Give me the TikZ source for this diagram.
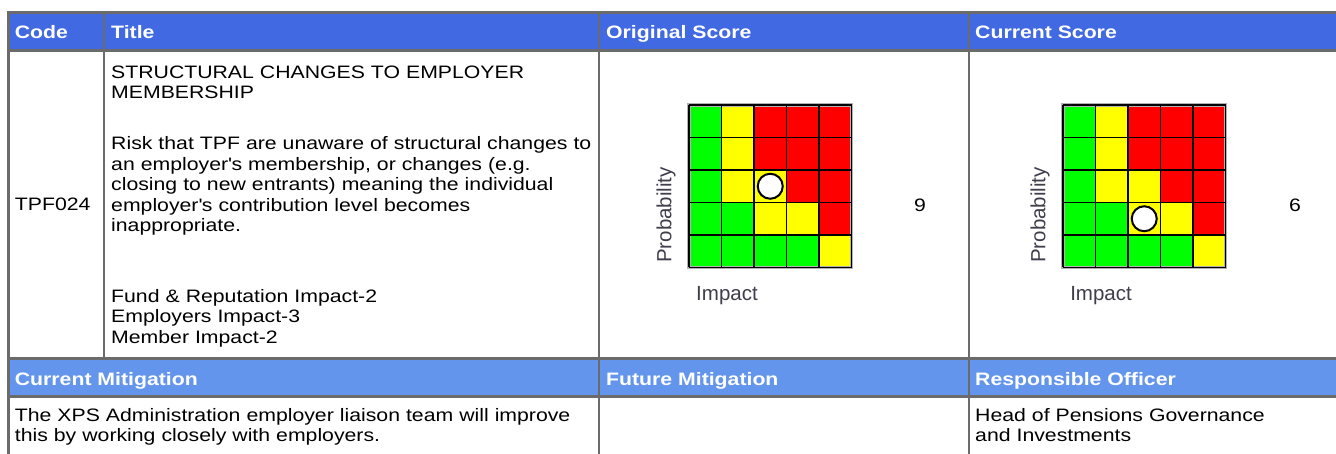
\documentclass[tikz,border=0pt]{standalone}
\usepackage{fontspec}
\setmainfont{Liberation Sans}[FakeStretch=1.18]
\newfontfamily\axisfont{Liberation Sans}
\usepackage{tikz}
\definecolor{mhead}{rgb}{0.255, 0.412, 0.882}
\definecolor{msub}{rgb}{0.392, 0.584, 0.929}
\definecolor{mrule}{rgb}{0.42, 0.42, 0.42}
\definecolor{mgreen}{rgb}{0, 1, 0}
\definecolor{myellow}{rgb}{1, 1, 0}
\definecolor{mred}{rgb}{1, 0, 0}
\definecolor{mlabel}{rgb}{0.25, 0.24, 0.3}
\tikzset{rule/.style = {mrule, line width = 2.7}}
\tikzset{cell/.style = {anchor = base west, inner sep = 0, text width = 560pt, align = left,
    font = \fontsize{18}{20.4}\selectfont}}
\tikzset{headtext/.style = {anchor = base west, inner sep = 0, white,
    font = \fontsize{18}{22}\selectfont\bfseries}}
\tikzset{axislabel/.style = {inner sep = 0, mlabel, font = \axisfont\fontsize{20.5}{24}\selectfont}}
\tikzset{marker/.style = {circle, draw = black, line width = 2, fill = white,
    minimum size = 25, inner sep = 0}}
\tikzset{gridline/.style = {black, line width = 1.8}}
\tikzset{riskmatrix/.pic = {
    \foreach \r/\cols in {0/{green,yellow,red,red,red}, 1/{green,yellow,red,red,red},
        2/{green,yellow,yellow,red,red}, 3/{green,green,yellow,yellow,red},
        4/{green,green,green,green,yellow}}
      \foreach \c [count=\k from 0] in \cols
        \fill [fill = m\c] (\k*32.5, \r*32.5) rectangle ++(32.5, 32.5);
    \draw [gray!60, line width = 3.2] (0, 0) rectangle (162.5, 162.5);
    \foreach \i in {0,...,5} {
      \draw [gridline] (\i*32.5, 0) -- (\i*32.5, 162.5);
      \draw [gridline] (0, \i*32.5) -- (162.5, \i*32.5);
    }
    \node [marker] (-dot) at (81.25, #1*32.5 + 16.25) {};
    \node [axislabel, rotate = 90] (-prob) at (-23, 110) {Probability};
    \node [axislabel] (-impact) at (38, 191) {Impact};
  }}

\begin{document}
\begin{tikzpicture}[x = 1pt, y = -1pt]
  \useasboundingbox (0, 0) rectangle (1336, 454);
  \fill [white] (0, 0) rectangle (1336, 454);

  \fill [mhead] (8.7, 12.2) rectangle (1336, 50.4);
  \fill [msub] (8.7, 358.5) rectangle (1336, 396.5);
  \foreach \y in {12.2, 50.4, 358.5, 396.5}
    \draw [rule] (7.35, \y) -- (1336, \y);
  \draw [rule] (8.7, 10.85) -- (8.7, 454);
  \draw [rule] (104, 12.2) -- (104, 358.5);
  \draw [rule] (599, 12.2) -- (599, 454);
  \draw [rule] (969, 12.2) -- (969, 454);

  \node [headtext] (code) at (14.7, 39) {Code};
  \node [headtext] (title) at (111, 39) {Title};
  \node [headtext] (orighead) at (606, 39) {Original Score};
  \node [headtext] (curhead) at (975, 39) {Current Score};

  \node [cell] (riskcode) at (14.7, 210.5) {TPF024};
  \node [cell] (risktitle) at (111, 78.5) {STRUCTURAL CHANGES TO EMPLOYER\\
    MEMBERSHIP\\[30.6pt]
    Risk that TPF are unaware of structural changes to\\
    an employer\textquotesingle s membership, or changes (e.g.\\
    closing to new entrants) meaning the individual\\
    employer\textquotesingle s contribution level becomes\\
    inappropriate.\\[50.6pt]
    Fund \& Reputation Impact-2\\
    Employers Impact-3\\
    Member Impact-2};

  \pic (orig) at (689, 105) {riskmatrix=2};
  \pic (cur) at (1063, 105) {riskmatrix=3};
  \node [cell, anchor = center, text width = {}] (origscore) at (920, 205) {9};
  \node [cell, anchor = center, text width = {}] (curscore) at (1295, 205) {6};

  \node [headtext] (curmit) at (14.7, 385) {Current Mitigation};
  \node [headtext] (futmit) at (606, 385) {Future Mitigation};
  \node [headtext] (officer) at (975, 385) {Responsible Officer};

  \node [cell] (curmittext) at (14.7, 421.5) {The XPS Administration employer liaison team will improve\\
    this by working closely with employers.};
  \node [cell] (officertext) at (975, 421.5) {Head of Pensions Governance\\
    and Investments};
\end{tikzpicture}
\end{document}
